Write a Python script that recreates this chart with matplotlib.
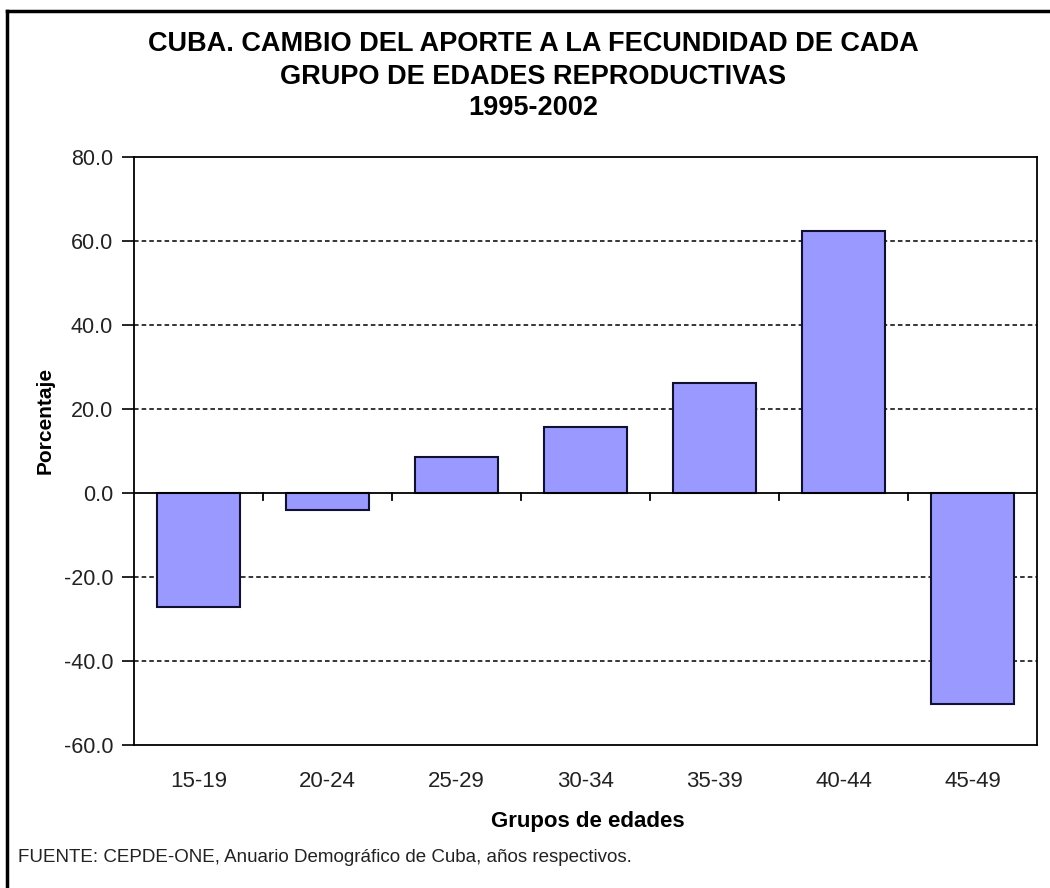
import matplotlib
matplotlib.use("Agg")
import matplotlib.pyplot as plt
from matplotlib.lines import Line2D

# datos
grupos = ["15-19", "20-24", "25-29", "30-34", "35-39", "40-44", "45-49"]
cambio = [-27.1, -4.0, 8.5, 15.8, 26.1, 62.4, -50.2]
yticks = [-60, -40, -20, 0, 20, 40, 60, 80]

titulo = ["CUBA. CAMBIO DEL APORTE A LA FECUNDIDAD DE CADA",
          "GRUPO DE EDADES REPRODUCTIVAS", "1995-2002"]
fuente = "FUENTE: CEPDE-ONE, Anuario Demográfico de Cuba, años respectivos."

plt.rcParams["font.family"] = ["Liberation Sans", "DejaVu Sans"]

fig = plt.figure(figsize=(10.5, 8.88), dpi=100)
ax = fig.add_axes([134 / 1050, 1 - 745 / 888, (1037 - 134) / 1050, (745 - 157) / 888])

x = list(range(len(grupos)))
ax.bar(x, cambio, width=0.65, color="#9999FF", edgecolor="#101030", linewidth=1.5, zorder=3)

ax.set_xlim(-0.5, len(grupos) - 0.5)
ax.set_ylim(-60, 80)
ax.set_yticks(yticks)
ax.set_yticklabels(["%.1f" % v for v in yticks], fontsize=15.5, color="#222222")
for v in yticks:
    if v not in (0, -60, 80):
        ax.axhline(v, color="black", linestyle=(0, (3, 2)), linewidth=1.1, zorder=1)
ax.axhline(0, color="black", linewidth=1.3, zorder=4)

# ticks de categoria sobre la linea del cero
ax.set_xticks([])
for b in range(1, len(grupos)):
    ax.plot([b - 0.5, b - 0.5], [0, -1.6], color="black", linewidth=1.3, zorder=4, clip_on=False)
for i, g in enumerate(grupos):
    ax.text(i, -68.6, g, ha="center", va="center", fontsize=16, color="#222222")

ax.tick_params(axis="y", length=9, width=1.2, pad=6)
for s in ax.spines.values():
    s.set_linewidth(1.3)
    s.set_color("black")

for ty, t in zip([44, 77, 108], titulo):
    fig.text(533 / 1050, 1 - ty / 888, t, ha="center", va="center", fontsize=19.5,
             fontweight="bold")
fig.text(45 / 1050, 1 - 420 / 888, "Porcentaje", rotation=90, ha="center", va="center",
         fontsize=15, fontweight="bold")
fig.text(588 / 1050, 1 - 821 / 888, "Grupos de edades", ha="center", va="center",
         fontsize=16, fontweight="bold")
fig.text(18 / 1050, 1 - 857 / 888, fuente, ha="left", va="center", fontsize=13.5,
         color="#222222")

# marco exterior (recortado a la derecha y abajo)
fig.add_artist(Line2D([7 / 1050, 7 / 1050], [0, 1 - 11 / 888], transform=fig.transFigure,
                      color="black", linewidth=2.5))
fig.add_artist(Line2D([7 / 1050, 1], [1 - 11 / 888, 1 - 11 / 888], transform=fig.transFigure,
                      color="black", linewidth=2.5))

fig.savefig("out.png", dpi=100)
